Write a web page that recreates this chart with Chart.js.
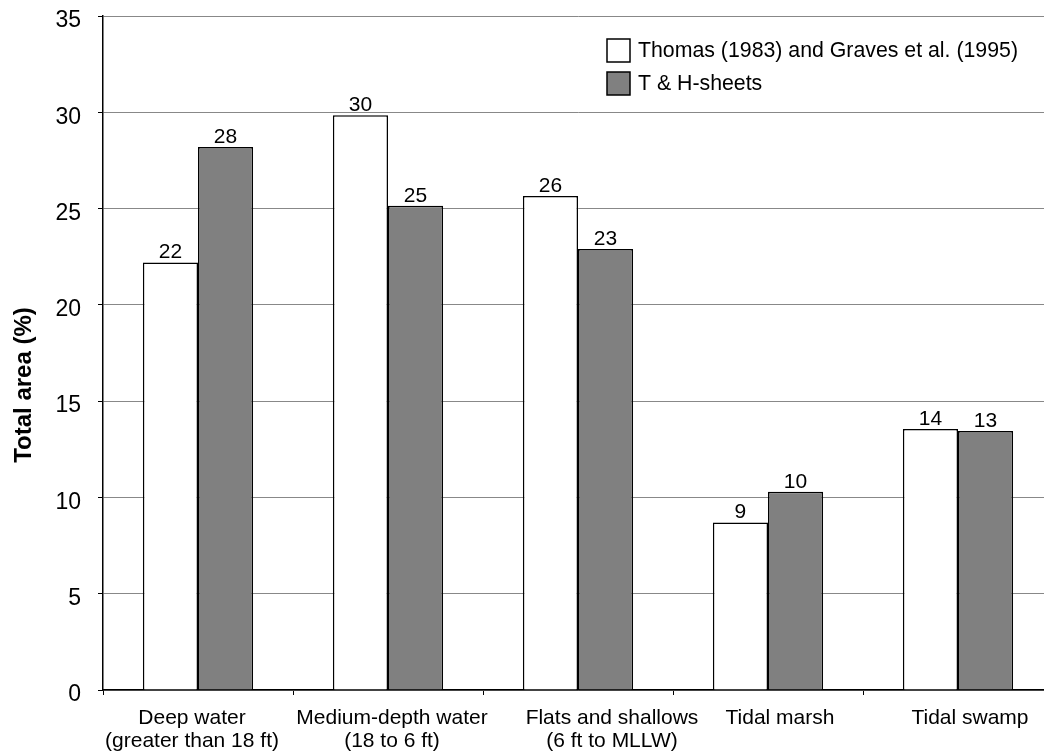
<!DOCTYPE html>
<html><head><meta charset="utf-8">
<style>html,body{margin:0;padding:0;background:#fff;overflow:hidden;width:1044px;height:753px}
canvas{display:block}</style>
<script src="https://cdn.jsdelivr.net/npm/chart.js@4/dist/chart.umd.min.js"></script>
</head><body>
<canvas id="c" width="1058" height="753" style="width:1058px;height:753px"></canvas>
<script>
const categories = [["Deep water","(greater than 18 ft)"],["Medium-depth water","(18 to 6 ft)"],["Flats and shallows","(6 ft to MLLW)"],["Tidal marsh"],["Tidal swamp"]];
const seriesNames = ["Thomas (1983) and Graves et al. (1995)", "T & H-sheets"];
const thomasGraves = [22.2, 29.85, 25.65, 8.7, 13.55];
const thSheets = [28.2, 25.15, 22.9, 10.3, 13.45];
const yTicks = [0, 5, 10, 15, 20, 25, 30, 35];
const yTitle = "Total area (%)";

const FONT = "'Liberation Sans', Arial, sans-serif";
// horizontal nudge of each category label (px), as placed in the original figure
const xLabelShift = [-6, 4, 34, 12, 12];

const valueLabels = {
  id: 'valueLabels',
  afterDatasetsDraw(chart) {
    const ctx = chart.ctx;
    ctx.save();
    ctx.font = "21px " + FONT;
    ctx.fillStyle = "#000";
    ctx.textAlign = "center";
    ctx.textBaseline = "alphabetic";
    chart.data.datasets.forEach((ds, i) => {
      chart.getDatasetMeta(i).data.forEach((el, j) => {
        ctx.fillText(String(Math.round(ds.data[j])), el.x, el.y - 4);
      });
    });
    ctx.restore();
  }
};

const xLabelNudge = {
  id: 'xLabelNudge',
  beforeDraw(chart) {
    const items = chart.scales.x.getLabelItems();
    items.forEach((it, i) => {
      if (!it._nudged) { it.options.translation[0] += xLabelShift[i] || 0; it._nudged = true; }
    });
  }
};

const yTitlePlugin = {
  id: 'yTitlePlugin',
  afterDraw(chart) {
    const ctx = chart.ctx;
    ctx.save();
    ctx.translate(24, 385);
    ctx.rotate(-Math.PI / 2);
    ctx.font = "bold 24px " + FONT;
    ctx.fillStyle = "#000";
    ctx.textAlign = "center";
    ctx.textBaseline = "middle";
    ctx.fillText(yTitle, 0, 0);
    ctx.restore();
  }
};

const legendPlugin = {
  id: 'legendPlugin',
  afterDraw(chart) {
    const ctx = chart.ctx;
    ctx.save();
    ctx.font = "21.3px " + FONT;
    ctx.textAlign = "left";
    ctx.textBaseline = "middle";
    chart.data.datasets.forEach((ds, i) => {
      const bx = 607, by = 39 + i * 33, s = 23;
      ctx.fillStyle = ds.backgroundColor;
      ctx.fillRect(bx, by, s, s);
      ctx.lineWidth = 1.5;
      ctx.strokeStyle = "#000";
      ctx.strokeRect(bx, by, s, s);
      ctx.fillStyle = "#000";
      ctx.fillText(ds.label, 638, by + s / 2 + 1);
    });
    ctx.restore();
  }
};

new Chart(document.getElementById('c'), {
  type: 'bar',
  data: {
    labels: categories,
    datasets: [
      { label: seriesNames[0], data: thomasGraves, backgroundColor: '#ffffff', borderColor: '#000', borderWidth: 1.5 },
      { label: seriesNames[1], data: thSheets, backgroundColor: '#808080', borderColor: '#000', borderWidth: 1.5 }
    ]
  },
  options: {
    responsive: false,
    animation: false,
    devicePixelRatio: 1,
    layout: { padding: { top: 16, right: 5, bottom: 0, left: 0 } },
    datasets: { bar: { categoryPercentage: 0.58, barPercentage: 1.0 } },
    plugins: { legend: { display: false }, tooltip: { enabled: false } },
    scales: {
      x: {
        offset: true,
        grid: { display: true, drawOnChartArea: false, offset: true, tickLength: 5, tickColor: '#000', lineWidth: 1 },
        border: { color: '#000', width: 1.5 },
        ticks: { color: '#000', font: { family: FONT, size: 21, lineHeight: 1.1 }, padding: 12, maxRotation: 0, autoSkip: false },
        afterFit(scale) { scale.height = 63; scale.paddingLeft = 0; scale.paddingRight = 0; }
      },
      y: {
        min: 0, max: 35,
        afterBuildTicks(scale) { scale.ticks = yTicks.map(v => ({ value: v })); },
        grid: { color: '#888', lineWidth: 1, tickLength: 5, tickColor: '#000' },
        border: { color: '#000', width: 1.5 },
        ticks: { color: '#000', font: { family: FONT, size: 23 }, padding: 17, labelOffset: 5 },
        afterFit(scale) { scale.width = 103; scale.paddingTop = 0; scale.paddingBottom = 0; }
      }
    }
  },
  plugins: [xLabelNudge, valueLabels, yTitlePlugin, legendPlugin]
});
</script>
</body></html>
